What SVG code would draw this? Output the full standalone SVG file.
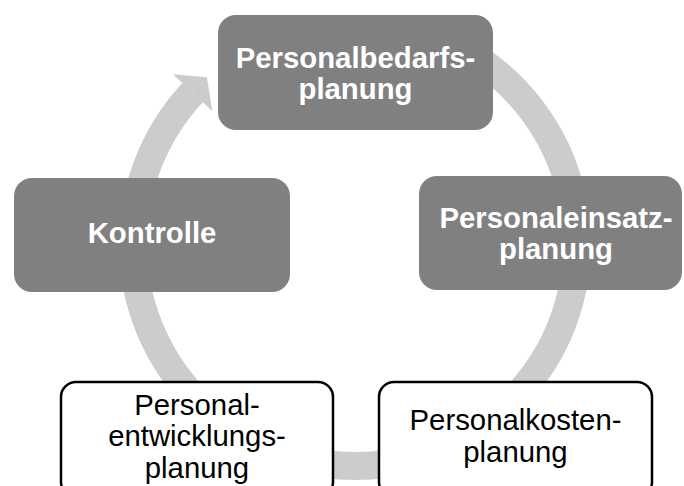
<svg xmlns="http://www.w3.org/2000/svg" width="684" height="486" viewBox="0 0 684 486">
<style>
.ring{fill:none;stroke:#cccccc;stroke-width:28}
.head{fill:#cccccc}
.dark{fill:#808080}
.light{fill:#ffffff;stroke:#000000;stroke-width:2.5}
text{font-family:"Liberation Sans",Arial,sans-serif;font-size:29.33px;text-anchor:middle}
.dt{fill:#ffffff;font-weight:bold}
.lt{fill:#000000}
</style>
<rect width="684" height="486" fill="#ffffff"/>
<g id="connectors">
<path class="ring" d="M466,51.74 A222,222 0 1 1 192.6,92.6"/>
<polygon class="head" points="172.9,74.2 206.9,77.2 212.3,111"/>
</g>
<g id="n1">
<rect class="dark" x="218" y="15" width="275" height="115" rx="18"/>
<text class="dt" x="355.5" y="67.5">Personalbedarfs-</text>
<text class="dt" x="355.5" y="99">planung</text>
</g>
<g id="n2">
<rect class="dark" x="419" y="176" width="263" height="114" rx="18"/>
<text class="dt" x="556" y="227.5">Personaleinsatz-</text>
<text class="dt" x="556" y="259">planung</text>
</g>
<g id="n3">
<rect class="light" x="379" y="382" width="273" height="115" rx="15"/>
<text class="lt" x="515.5" y="430">Personalkosten-</text>
<text class="lt" x="515.5" y="461.5">planung</text>
</g>
<g id="n4">
<rect class="light" x="61" y="382" width="272" height="115" rx="15"/>
<text class="lt" x="197" y="414.5">Personal-</text>
<text class="lt" x="197" y="446">entwicklungs-</text>
<text class="lt" x="197" y="477.5">planung</text>
</g>
<g id="n5">
<rect class="dark" x="14" y="178" width="276" height="114" rx="18"/>
<text class="dt" x="152" y="243">Kontrolle</text>
</g>
</svg>
